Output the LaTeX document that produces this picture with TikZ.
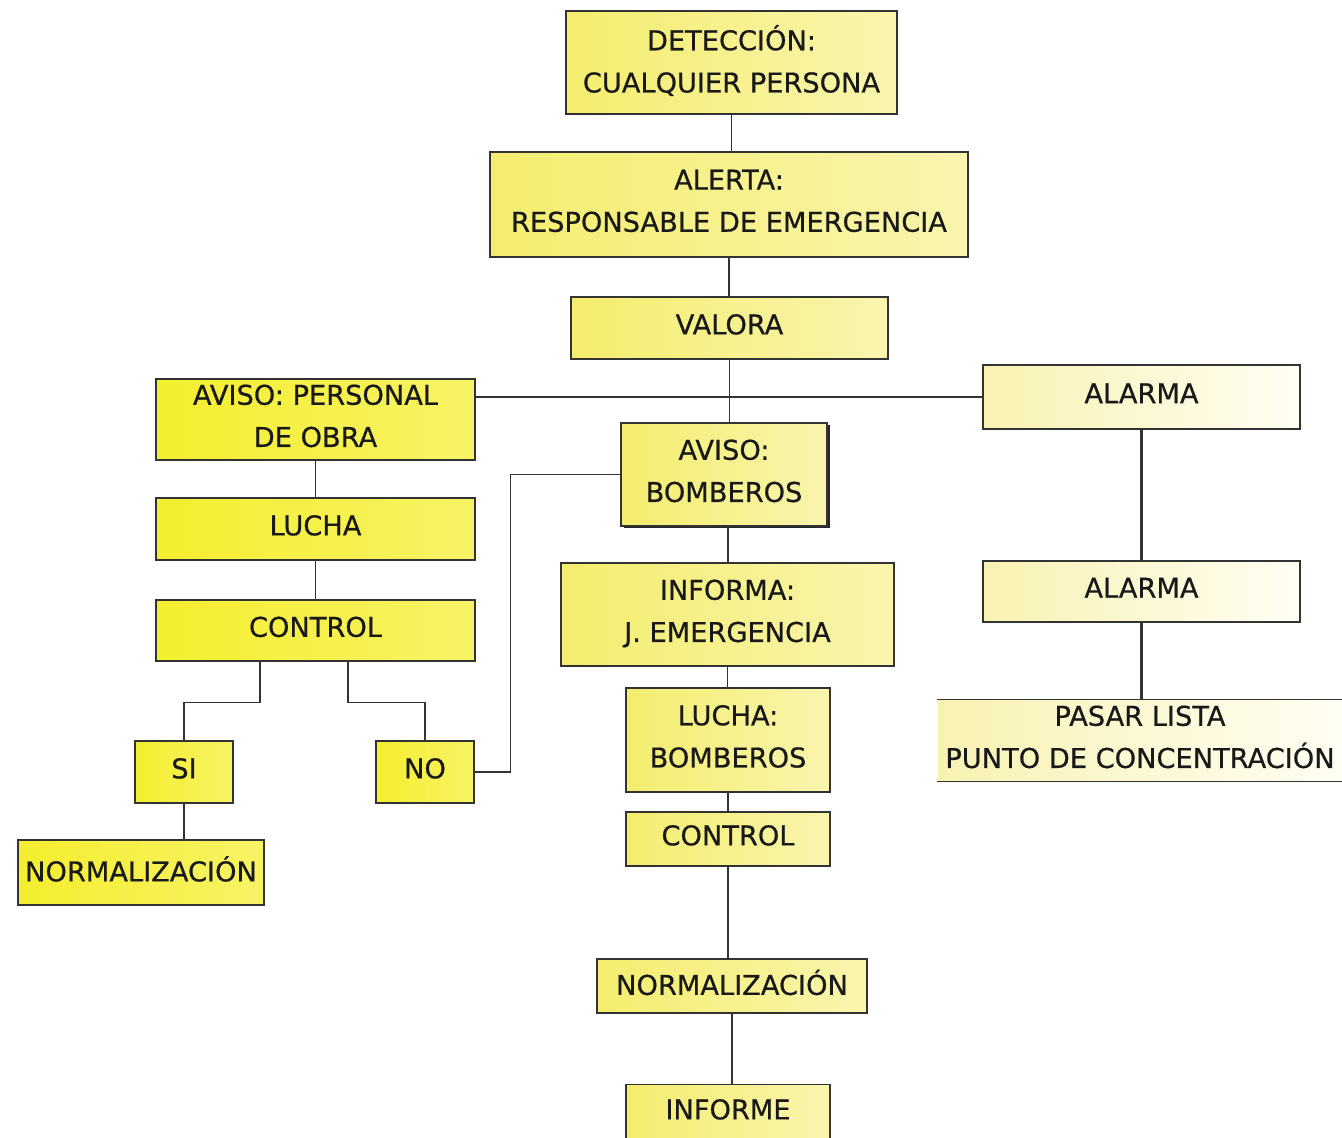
\documentclass[tikz,border=0pt]{standalone}
\usepackage{fontspec}
\setmainfont{DejaVu Sans}[FakeBold=0.6]
\usetikzlibrary{shadows}

\definecolor{amarillo}{HTML}{F4EE2E}
\definecolor{amarilloclaro}{HTML}{F7F366}
\definecolor{crema}{HTML}{F4ED6E}
\definecolor{cremaclara}{HTML}{F9F5AE}
\definecolor{palido}{HTML}{F8F2B2}
\definecolor{palidoclaro}{HTML}{FFFEF4}

\begin{document}
\begin{tikzpicture}
          \useasboundingbox (0,0) rectangle (26.84,-22.76);
          \fill[white] (0,0) rectangle (26.84,-22.76);
          \tikzstyle{caja} = [draw=black!80, line width=0.8pt, inner sep=0pt, align=center, text depth=0.15cm, text=black!90, font=\fontsize{15.5}{24}\selectfont]
          \tikzstyle{obra} = [caja, left color=amarillo, right color=amarilloclaro]
          \tikzstyle{bomb} = [caja, left color=crema, right color=cremaclara]
          \tikzstyle{alar} = [caja, left color=palido, right color=palidoclaro]
          \tikzstyle{linea} = [draw=black!80, line width=0.8pt]
          % columna central
          \node[bomb, minimum width=6.62cm, minimum height=2.06cm](det) at (14.63,-1.25) {DETECCIÓN:\\CUALQUIER PERSONA};
          \node[bomb, minimum width=9.56cm, minimum height=2.10cm](ale) at (14.58,-4.09) {ALERTA:\\RESPONSABLE DE EMERGENCIA};
          \node[bomb, minimum width=6.34cm, minimum height=1.24cm](val) at (14.59,-6.56) {VALORA};
          \node[bomb, minimum width=4.12cm, minimum height=2.06cm,
                drop shadow={shadow xshift=0.05cm, shadow yshift=-0.05cm, fill=black!85, opacity=1}](avb) at (14.48,-9.49) {AVISO:\\BOMBEROS};
          \node[bomb, minimum width=6.66cm, minimum height=2.06cm](inf) at (14.55,-12.29) {INFORMA:\\J. EMERGENCIA};
          \node[bomb, minimum width=4.08cm, minimum height=2.08cm](lub) at (14.56,-14.80) {LUCHA:\\BOMBEROS};
          \node[bomb, minimum width=4.08cm, minimum height=1.08cm](ctc) at (14.56,-16.78) {CONTROL};
          \node[bomb, minimum width=5.40cm, minimum height=1.08cm](norc) at (14.64,-19.72) {NORMALIZACIÓN};
          \node[bomb, minimum width=4.08cm, minimum height=1.14cm](infm) at (14.56,-22.26) {INFORME};
          % rama del personal de obra
          \node[obra, minimum width=6.38cm, minimum height=1.62cm](avp) at (6.31,-8.39) {AVISO: PERSONAL\\DE OBRA};
          \node[obra, minimum width=6.38cm, minimum height=1.24cm](luc) at (6.31,-10.58) {LUCHA};
          \node[obra, minimum width=6.38cm, minimum height=1.22cm](ctl) at (6.31,-12.61) {CONTROL};
          \node[obra, minimum width=1.96cm, minimum height=1.24cm](si) at (3.68,-15.44) {SI};
          \node[obra, minimum width=1.96cm, minimum height=1.24cm](no) at (8.50,-15.44) {NO};
          \node[obra, minimum width=4.92cm, minimum height=1.30cm](norl) at (2.82,-17.45) {NORMALIZACIÓN};
          % rama de la alarma
          \node[alar, minimum width=6.34cm, minimum height=1.28cm](ala1) at (22.83,-7.94) {ALARMA};
          \node[alar, minimum width=6.34cm, minimum height=1.22cm](ala2) at (22.83,-11.83) {ALARMA};
          \node[caja, draw=none, left color=palido, right color=palidoclaro, minimum width=8.08cm, minimum height=1.62cm](lista) at (22.80,-14.81) {PASAR LISTA\\PUNTO DE CONCENTRACIÓN};
          \path[linea] (lista.north west) -- (lista.north east);
          \path[linea] (lista.south west) -- (lista.south east);
          % conexiones
          \path[linea] (det.south) -- (det.south |- ale.north);
          \path[linea] (ale.south) -- (ale.south |- val.north);
          \path[linea] (val.south) -- (val.south |- avb.north);
          \path[linea] (ala1.west) -- (ala1.west -| avp.east);
          \path[linea] ([xshift=0.08cm]avb.south) -- ([xshift=0.08cm]avb.south |- inf.north);
          \path[linea] (inf.south) -- (inf.south |- lub.north);
          \path[linea] (lub.south) -- (ctc.north);
          \path[linea] (ctc.south) -- (ctc.south |- norc.north);
          \path[linea] (norc.south) -- (norc.south |- infm.north);
          \path[linea] (avp.south) -- (luc.north);
          \path[linea] (luc.south) -- (ctl.north);
          \path[linea] ([xshift=-1.11cm]ctl.south) -- ++(0,-0.82) -| (si.north);
          \path[linea] ([xshift=0.65cm]ctl.south) -- ++(0,-0.82) -| (no.north);
          \path[linea] (si.south) -- (si.south |- norl.north);
          \path[linea] (no.east) -- ++(0.72,0) |- (avb.west);
          \path[linea, line width=1.6pt] (ala1.south) -- (ala2.north);
          \path[linea, line width=1.6pt] (ala2.south) -- (ala2.south |- lista.north);
\end{tikzpicture}
\end{document}
